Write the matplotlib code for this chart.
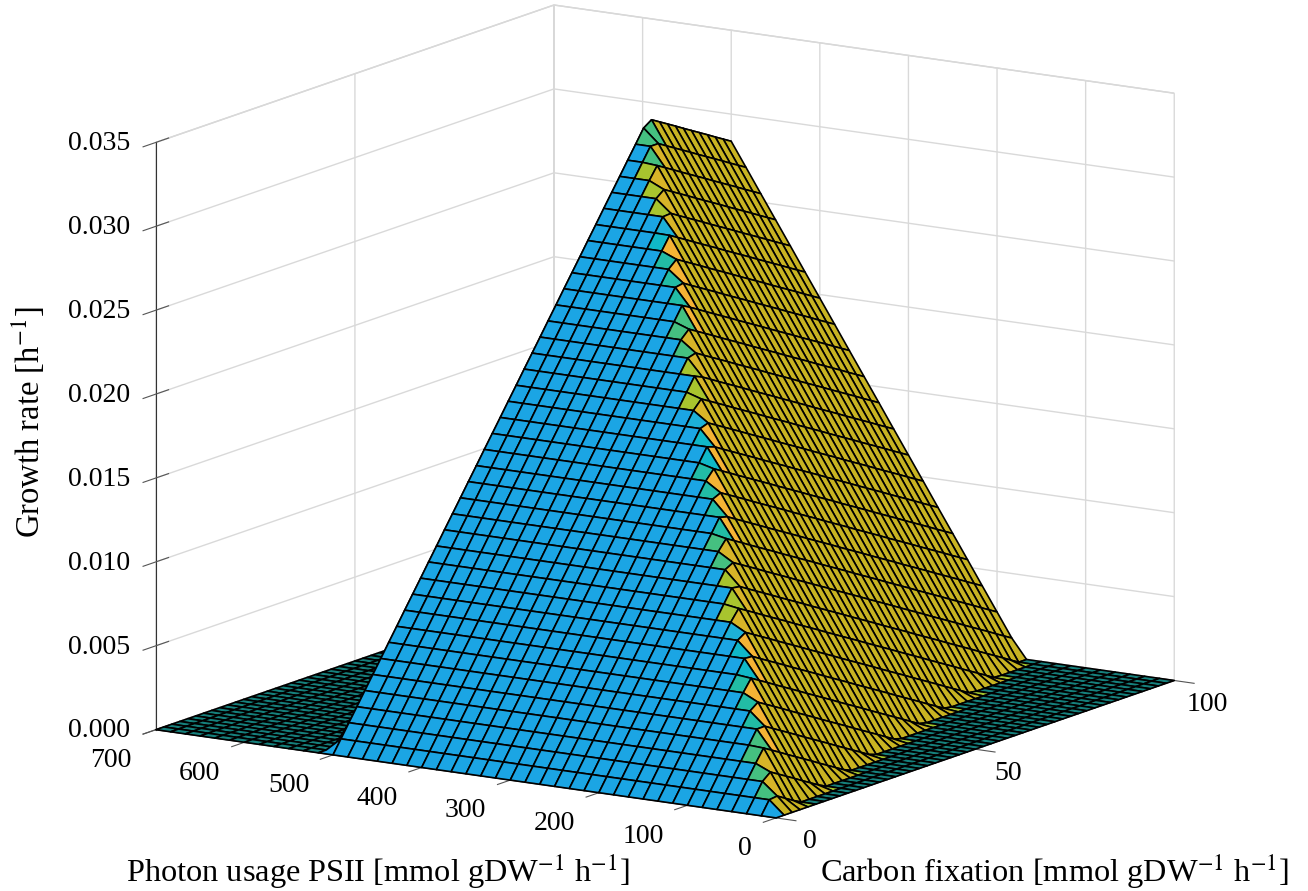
# -*- coding: utf-8 -*-
"""Growth rate surface over photon usage and carbon fixation."""
import matplotlib
matplotlib.use("Agg")
import matplotlib.pyplot as plt
import numpy as np
from matplotlib.colors import to_rgba

plt.rcParams.update({"font.family": ["Liberation Serif", "DejaVu Serif"], "mathtext.fontset": "stix", "font.size": 20})

photon = [0, 16.67, 33.33, 50, 66.67, 83.33, 100, 116.67, 133.33, 150, 166.67, 183.33, 200, 216.67,
          233.33, 250, 266.67, 283.33, 300, 316.67, 333.33, 350, 366.67, 383.33, 400, 416.67, 433.33,
          450, 466.67, 483.33, 500, 516.67, 533.33, 550, 566.67, 583.33, 600, 616.67, 633.33, 650,
          666.67, 683.33, 700]
carbon = [0, 2, 4, 6, 8, 10, 12, 14, 16, 18, 20, 22, 24, 26, 28, 30, 32, 34, 36, 38, 40, 42, 44, 46, 48,
          50, 52, 54, 56, 58, 60, 62, 64, 66, 68, 70, 72, 74, 76, 78, 80, 82, 84, 86, 88, 90, 92, 94, 96,
          98, 100]
# growth rate (1e-3 / h) where carbon limits, one value per carbon row
carbon_limit = [0, .79, 1.59, 2.38, 3.18, 3.97, 4.76, 5.56, 6.35, 7.15, 7.94, 8.73, 9.53, 10.32, 11.12,
                11.91, 12.70, 13.50, 14.29, 15.09, 15.88, 16.67, 17.47, 18.26, 19.06, 19.85, 20.64,
                21.44, 22.23, 23.03, 23.82, 24.61, 25.41, 26.20, 27.00, 27.79, 28.58, 29.38, 30.17,
                30.97, 31.76, 32.55, 33.35, 34.14, 34.94, 35.73, 36.52, 37.32, 38.11, 38.91, 39.70]
# growth rate where light limits: per photon column, minus a per carbon row loss
light_gain = [0, 1.43, 2.87, 4.30, 5.73, 7.17, 8.60, 10.03, 11.47, 12.90, 14.33, 15.77, 17.20, 18.63,
              20.07, 21.50, 22.93, 24.37, 25.80, 27.23, 28.67, 30.10, 31.53, 32.97, 34.40, 35.83,
              37.27, 38.70, 40.13, 41.57, 43.00, 0, 0, 0, 0, 0, 0, 0, 0, 0, 0, 0, 0]
light_loss = [0, .29, .58, .88, 1.17, 1.46, 1.75, 2.05, 2.34, 2.63, 2.92, 3.22, 3.51, 3.80, 4.09, 4.39,
              4.68, 4.97, 5.26, 5.56, 5.85, 6.14, 6.43, 6.73, 7.02, 7.31, 7.60, 7.89, 8.19, 8.48, 8.77,
              9.06, 9.36, 9.65, 9.94, 10.23, 10.53, 10.82, 11.11, 11.40, 11.70, 11.99, 12.28, 12.57,
              12.87, 13.16, 13.45, 13.74, 14.04, 14.33, 14.62]
# colour of the cells along the fold, bottom row first
fold_outer = ["teal", "green", "green", "green", "green", "teal", "teal", "teal", "cyan", "cyan",
              "sky", "lime", "lime", "lime", "green", "green", "teal", "teal", "teal", "teal",
              "cyan", "cyan", "sky", "lime", "lime", "lime", "green", "green", "green", "teal",
              "teal", "teal", "cyan", "sky", "lime", "lime", "lime", "green", "green", "green"]
fold_inner = ["orange", "amber", "amber", "amber", "amber", "orange", "orange", "orange", "orange", "orange",
              "orange", "amber", "amber", "amber", "amber", "amber", "orange", "orange", "orange", "orange",
              "orange", "orange", "orange", "amber", "amber", "amber", "amber", "amber", "amber", "orange",
              "orange", "orange", "orange", "orange", "amber", "amber", "amber", "amber", "amber", "amber"]

x_ticks = [0, 100, 200, 300, 400, 500, 600, 700]
y_ticks = [0, 50, 100]
z_ticks = [0, 0.005, 0.010, 0.015, 0.020, 0.025, 0.030, 0.035]

palette = {"blue": "#1ba5e4", "olive": "#c8b322", "floor": "#16807c", "edge": "#a3c52e", "teal": "#22bca5",
           "green": "#45c080", "cyan": "#10b8c8", "sky": "#1db0d8", "lime": "#a8c42e", "orange": "#f5b335",
           "amber": "#d8b428"}

X, Y = np.meshgrid(photon, carbon)
gain = np.array(light_gain)
loss = np.array(light_loss)
limit = np.array(carbon_limit)
light = np.clip(gain[None, :] - loss[:, None], 0, None)
Z = np.minimum(limit[:, None], light) / 1000.0
is_light = light < limit[:, None]

rows, cols = Z.shape
colors = np.zeros((rows - 1, cols - 1, 4))
for j in range(rows - 1):
    seen = 0
    for i in range(cols - 2, -1, -1):
        corners = is_light[j:j + 2, i:i + 2]
        zc = Z[j:j + 2, i:i + 2]
        if zc.max() == 0:
            name = "floor"
        elif zc.min() == 0:
            if i >= 29 or j == 0:
                name = "blue"
            else:
                name = "edge" if np.count_nonzero(zc) == 1 else "olive"
        elif corners.all():
            name = "olive"
        elif not corners.any():
            name = "blue"
        else:
            k = min(j, len(fold_outer) - 1)
            name = fold_outer[k] if seen == 0 else fold_inner[k]
            seen += 1
        colors[j, i] = to_rgba(palette[name])

fig = plt.figure(figsize=(13.08, 8.91), dpi=100)
ax = fig.add_axes([-1 / 1308, 22 / 891, 1, 1], projection="3d", proj_type="ortho", computed_zorder=False)
ax.view_init(elev=12.8, azim=-57.3)
ax.set_box_aspect((738, 738, 603), zoom=1.3116)
surf = ax.plot_surface(X, Y, Z, facecolors=colors, rstride=1, cstride=1, shade=False, edgecolor="black", linewidth=1.2, zorder=3)
surf.set_clip_on(False)
ax.set_xlim(700, 0)
ax.set_ylim(0, 100)
ax.set_zlim(0, 0.035)
ax.set_xticks(x_ticks)
ax.set_yticks(y_ticks)
ax.set_zticks(z_ticks)
ax.set_zticklabels([f"{v:.3f}" for v in z_ticks])
for axis in (ax.xaxis, ax.yaxis, ax.zaxis):
    axis.set_pane_color((1, 1, 1, 1))
    axis.pane.set_edgecolor("#d4d4d4")
    axis._axinfo["grid"].update(color="#d9d9d9", linewidth=1.0)
    axis._axinfo["tick"].update(inward_factor=0.4, outward_factor=0.4, color="#555555")
    axis.line.set_color("#333333")
ax.zaxis.set_ticks_position("lower")
plt.setp(ax.get_xticklabels(), ha="right", va="bottom")
plt.setp(ax.get_yticklabels(), ha="center", va="bottom")
plt.setp(ax.get_zticklabels(), ha="right", va="center")
ax.tick_params(axis="x", pad=12, color="#555555")
ax.tick_params(axis="y", pad=10, color="#555555")
ax.tick_params(axis="z", pad=0.4, color="#555555")
ax.patch.set_visible(False)

fig.text(378 / 1308, 1 - 872 / 891, "Photon usage PSII [mmol gDW$^{-1}$ h$^{-1}$]", ha="center", va="center", fontsize=23.3)
fig.text(1054 / 1308, 1 - 872 / 891, "Carbon fixation [mmol gDW$^{-1}$ h$^{-1}$]", ha="center", va="center", fontsize=23.3)
fig.text(28 / 1308, 1 - 422 / 891, "Growth rate [h$^{-1}$]", rotation=90, ha="center", va="center", fontsize=23.5)

fig.savefig("out.png", dpi=100)
print("out.png")
